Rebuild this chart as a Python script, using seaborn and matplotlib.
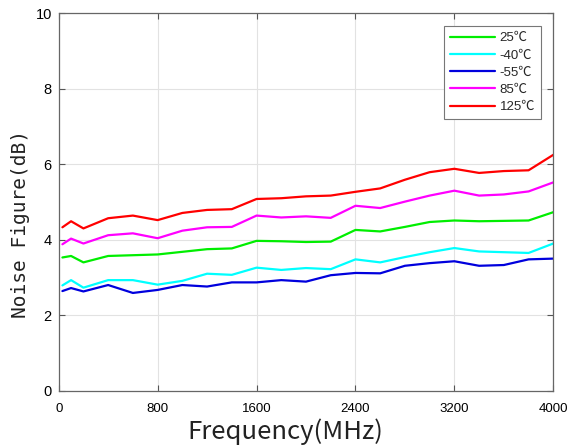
import numpy as np
import pandas as pd
import matplotlib
matplotlib.use("Agg")
import matplotlib.pyplot as plt
import seaborn as sns

freq = [30, 100, 200, 400, 600, 800, 1000, 1200, 1400, 1600, 1800, 2000,
        2200, 2400, 2600, 2800, 3000, 3200, 3400, 3600, 3800, 4000]

nf_25 = [3.53, 3.57, 3.40, 3.57, 3.59, 3.61, 3.68, 3.75, 3.77, 3.97, 3.96, 3.94,
         3.95, 4.26, 4.22, 4.34, 4.47, 4.51, 4.49, 4.50, 4.51, 4.73]
nf_m40 = [2.79, 2.93, 2.73, 2.93, 2.93, 2.81, 2.91, 3.10, 3.07, 3.26, 3.20, 3.25,
          3.22, 3.48, 3.40, 3.54, 3.67, 3.78, 3.69, 3.67, 3.65, 3.90]
nf_m55 = [2.64, 2.72, 2.63, 2.80, 2.59, 2.67, 2.80, 2.76, 2.87, 2.87, 2.93, 2.89,
          3.06, 3.12, 3.11, 3.31, 3.38, 3.43, 3.31, 3.33, 3.48, 3.50]
nf_85 = [3.88, 4.03, 3.90, 4.12, 4.17, 4.04, 4.24, 4.33, 4.34, 4.64, 4.59, 4.62,
         4.58, 4.90, 4.84, 5.01, 5.17, 5.30, 5.17, 5.20, 5.28, 5.52]
nf_125 = [4.33, 4.49, 4.30, 4.57, 4.64, 4.52, 4.71, 4.79, 4.81, 5.08, 5.10, 5.15,
          5.17, 5.27, 5.36, 5.59, 5.79, 5.88, 5.77, 5.82, 5.84, 6.25]

labels = ["25℃", "-40℃", "-55℃", "85℃", "125℃"]
series = [nf_25, nf_m40, nf_m55, nf_85, nf_125]
colors = ["#00ee00", "#00ffff", "#0000dd", "#ff00ff", "#ff0000"]

xticks = [0, 800, 1600, 2400, 3200, 4000]
yticks = [0, 2, 4, 6, 8, 10]

df = pd.DataFrame({
    "freq": np.tile(freq, len(labels)),
    "nf": np.concatenate(series),
    "temp": np.repeat(labels, len(freq)),
})

sns.set_theme(style="white")
plt.rcParams["font.family"] = ["Liberation Sans", "Noto Sans CJK SC", "DejaVu Sans"]

fig = plt.figure(figsize=(5.71, 4.48), dpi=100)
ax = fig.add_axes([58.7 / 571, 1 - 390.7 / 448, (553.3 - 58.7) / 571, (390.7 - 13.3) / 448])

sns.lineplot(data=df, x="freq", y="nf", hue="temp", hue_order=labels,
             palette=dict(zip(labels, colors)), linewidth=1.6, ax=ax,
             estimator=None, sort=False)

ax.set_xlim(0, 4000)
ax.set_ylim(0, 10)
ax.set_xticks(xticks)
ax.set_yticks(yticks)
ax.set_xticklabels([str(t) for t in xticks], fontsize=9.5, color="black")
ax.set_yticklabels([str(t) for t in yticks], fontsize=10.5, color="black")
ax.grid(True, color="#e2e2e2", linewidth=0.8)
ax.tick_params(direction="in", length=4, width=0.8, color="#555555",
               top=True, right=True, bottom=True, left=True)
ax.tick_params(axis="x", pad=8.5)
ax.tick_params(axis="y", pad=5)
for s in ax.spines.values():
    s.set_color("#666666")
    s.set_linewidth(0.9)
    s.set_visible(True)

ax.set_xlabel("Frequency(MHz)", fontsize=18.5, family=["Noto Sans CJK SC", "DejaVu Sans"],
              color="#222222")
ax.xaxis.set_label_coords((285 - 58.7) / 494.6, -(445 - 390.7) / 377.4)
ax.xaxis.label.set_va("bottom")
ax.set_ylabel("Noise Figure(dB)", fontsize=14, family=["DejaVu Sans Mono"],
              color="#222222")
ax.yaxis.set_label_coords(-(58.7 - 21) / 494.6, (390.7 - 224) / 377.4)
ax.yaxis.label.set_va("center")

leg = ax.legend(loc="upper right", bbox_to_anchor=(541 / 571, 1 - 26 / 448),
                bbox_transform=fig.transFigure, borderaxespad=0, fontsize=9.5,
                frameon=True, fancybox=False, framealpha=1, edgecolor="#777777",
                handlelength=3.4, labelspacing=0.38, borderpad=0.45,
                handletextpad=0.35, title=None)
leg.get_frame().set_linewidth(0.8)

fig.savefig("out.png", dpi=100)
